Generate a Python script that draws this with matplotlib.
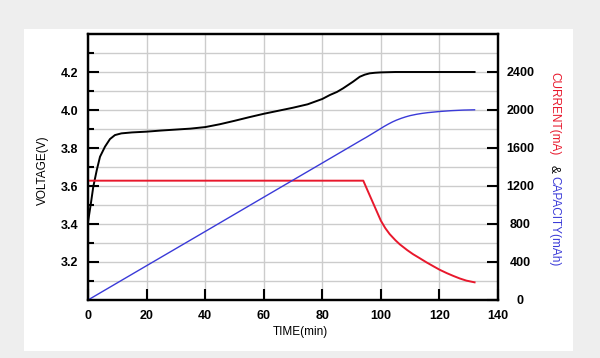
import matplotlib.pyplot as plt
import matplotlib.patches as patches
from matplotlib.ticker import MultipleLocator

plt.rcParams['font.family'] = ['Liberation Sans', 'DejaVu Sans']

# voltage curve (V) vs time (min)
volt_t = [0, 1, 1.8, 3, 4.1, 5.8, 7.5, 9.2, 11.4, 15, 20, 25, 30, 35, 40, 45, 50,
          55, 60, 65, 70, 75, 80, 82.6, 85, 87.1, 90.5, 92.8, 94.5, 96.2, 98, 100,
          105, 110, 120, 132]
volt_v = [3.41, 3.51, 3.596, 3.684, 3.754, 3.807, 3.847, 3.868, 3.877, 3.882,
          3.886, 3.892, 3.897, 3.902, 3.91, 3.925, 3.943, 3.962, 3.98, 3.996,
          4.012, 4.03, 4.058, 4.079, 4.095, 4.114, 4.149, 4.175, 4.186, 4.193,
          4.196, 4.198, 4.2, 4.2, 4.2, 4.2]

# current (mA)
curr_t = [0, 94, 96, 98, 100, 101.5, 103, 105, 106.5, 109, 111, 113, 115.6, 118,
          120.1, 122.5, 124.7, 127, 129.2, 132]
curr_ma = [1256, 1256, 1115, 975, 835, 757, 694, 628, 585, 525, 482, 445, 396, 354,
           318, 283, 254, 226, 204, 186]

# capacity (mAh)
cap_t = [0, 20, 40, 60, 80, 93.4, 95, 96.5, 98, 99.7, 101, 102.5, 104, 105.3, 107,
         108.5, 110, 112.2, 114, 116, 118, 120, 124, 128.1, 132]
cap_mah = [0, 361, 721, 1082, 1442, 1684, 1712, 1740, 1768, 1800, 1825, 1851, 1875,
           1893, 1913, 1928, 1941, 1955, 1964, 1972, 1978, 1984, 1993, 1999, 2002]

fig = plt.figure(figsize=(6, 3.58), dpi=100, facecolor='#eeeeee')
card = patches.Rectangle((24 / 600, 1 - 351 / 358), (573 - 24) / 600, (351 - 29) / 358,
                         transform=fig.transFigure, facecolor='white', edgecolor='none',
                         zorder=-10)
fig.patches.append(card)

ax = fig.add_axes([88 / 600, 1 - 300 / 358, 410 / 600, 266 / 358])
ax.set_xlim(0, 140)
ax.set_ylim(3.0, 4.4)
ax.xaxis.set_major_locator(MultipleLocator(20))
ax.set_yticks([3.2, 3.4, 3.6, 3.8, 4.0, 4.2])
ax.set_yticks([3.1, 3.3, 3.5, 3.7, 3.9, 4.1, 4.3], minor=True)
ax.grid(True, which='both', color='#cccccc', linewidth=1)
ax.set_axisbelow(True)
ax.tick_params(axis='both', which='major', direction='in', length=8, width=1.5,
               labelsize=9, pad=7, colors='black')
ax.tick_params(axis='y', which='minor', direction='in', length=4.5, width=1.5)
ax.tick_params(top=False, right=False)
for lab in ax.get_xticklabels() + ax.get_yticklabels():
    lab.set_fontweight('bold')
for sp in ax.spines.values():
    sp.set_linewidth(1.6)

ax.plot(volt_t, volt_v, color='black', linewidth=1.4, zorder=3)

ax2 = ax.twinx()
ax2.set_ylim(0, 2800)
ax2.set_yticks([0, 400, 800, 1200, 1600, 2000, 2400])
ax2.tick_params(axis='y', direction='in', length=8, width=1.5, labelsize=9, pad=16)
for lab in ax2.get_yticklabels():
    lab.set_fontweight('bold')
    lab.set_horizontalalignment('center')
for sp in ax2.spines.values():
    sp.set_linewidth(1.6)

ax2.plot(curr_t, curr_ma, color='#e8182c', linewidth=1.4)
ax2.plot(cap_t, cap_mah, color='#3a3ad8', linewidth=1.0)

fig.text(42.5 / 600, 1 - 170 / 358, 'VOLTAGE(V)', rotation=90, ha='center', va='center',
         fontsize=8.5)
fig.text(300 / 600, 1 - 332 / 358, 'TIME(min)', ha='center', va='center', fontsize=8.5)
fig.text(554 / 600, 1 - 114 / 358, 'CURRENT(mA)', rotation=-90, ha='center', va='center',
         fontsize=8.5, color='#e8182c')
fig.text(554 / 600, 1 - 169 / 358, '&', rotation=-90, ha='center', va='center',
         fontsize=8.5, color='black')
fig.text(554 / 600, 1 - 221 / 358, 'CAPACITY(mAh)', rotation=-90, ha='center', va='center',
         fontsize=8.5, color='#3a3ad8')

fig.savefig('out.png', dpi=100, facecolor=fig.get_facecolor())
